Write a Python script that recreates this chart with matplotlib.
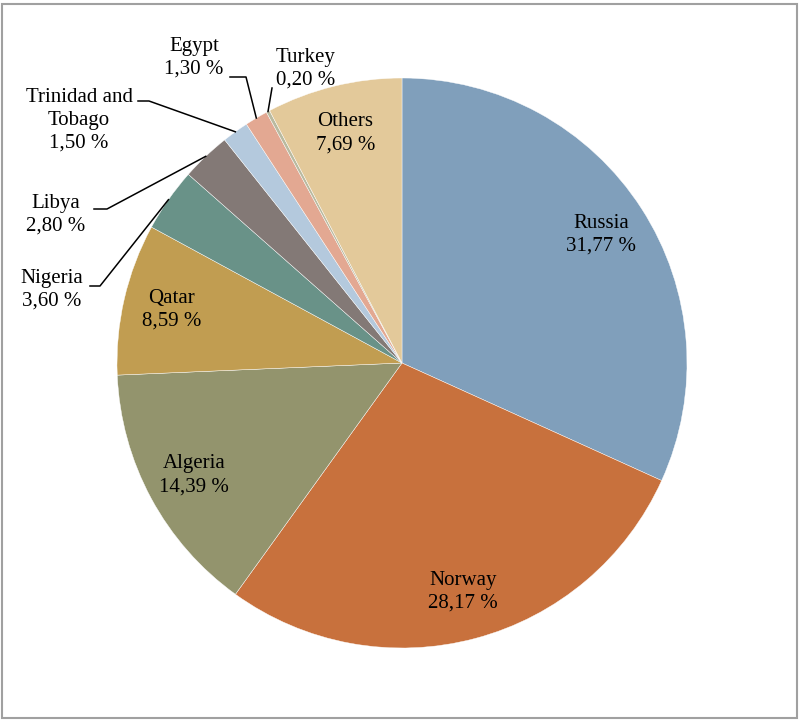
import numpy as np
import matplotlib.pyplot as plt
from matplotlib.patches import Rectangle

countries = ["Russia", "Norway", "Algeria", "Qatar", "Nigeria", "Libya",
             "Trinidad and\nTobago", "Egypt", "Turkey", "Others"]
shares = [31.77, 28.17, 14.39, 8.59, 3.60, 2.80, 1.50, 1.30, 0.20, 7.69]
colors = ["#809FBB", "#C8713D", "#93946D", "#C19D51", "#699288", "#837976",
          "#B4C9DD", "#E3A892", "#B9BAA0", "#E3C99A"]

# labels drawn inside the pie vs. outside with leader lines
inside = ["Russia", "Norway", "Algeria", "Qatar", "Others"]
# outside label: text centre, line start, elbow (pixel coords, y down)
outside = {
    "Nigeria": ((52, 290), (90, 286), (100, 286)),
    "Libya": ((56, 215), (94, 209), (107, 209)),
    "Trinidad and\nTobago": ((79, 120), (138, 101), (149, 101)),
    "Egypt": ((194, 58), (230, 77), (246, 77)),
    "Turkey": ((306, 69), (272, 88), None),
}

W, H = 800, 720
cx, cy, R = 402, 363, 285

plt.rcParams['font.family'] = ['Liberation Serif', 'DejaVu Serif']

fig = plt.figure(figsize=(W / 100, H / 100), dpi=100)
ax = fig.add_axes([0, 0, 1, 1])

ax.pie(shares, colors=colors, startangle=90, counterclock=False,
       center=(cx, H - cy), radius=R, frame=True,
       wedgeprops=dict(edgecolor="white", linewidth=0.3))
ax.set_xlim(0, W)
ax.set_ylim(0, H)
ax.axis("off")

def fmt(v):
    return f"{v:.2f}".replace(".", ",") + " %"

total = sum(shares)
cum = np.cumsum([0] + shares[:-1])
fs = 15
ls = 1.28
for name, v, c0 in zip(countries, shares, cum):
    mid = (c0 + v / 2) / total * 2 * np.pi  # clockwise from top
    ex, ey = cx + R * np.sin(mid), cy - R * np.cos(mid)
    label = f"{name}\n{fmt(v)}"
    if name in inside:
        r = 0.83 * R
        tx, ty = cx + r * np.sin(mid), cy - r * np.cos(mid)
        ax.text(tx, H - ty, label, ha="center", va="center", fontsize=fs,
                linespacing=ls)
    else:
        (tx, ty), start, elbow = outside[name]
        ax.text(tx, H - ty, label, ha="center", va="center", fontsize=fs,
                linespacing=ls)
        pts = [start] + ([elbow] if elbow else []) + [(ex, ey)]
        xs = [p[0] for p in pts]
        ys = [H - p[1] for p in pts]
        ax.plot(xs, ys, color="black", lw=1.1)

fig.patches.append(Rectangle((2 / W, 2 / H), 795 / W, 714 / H,
                             transform=fig.transFigure, fill=False,
                             edgecolor="#A0A0A0", lw=1.5))

fig.savefig("out.png", dpi=100)
